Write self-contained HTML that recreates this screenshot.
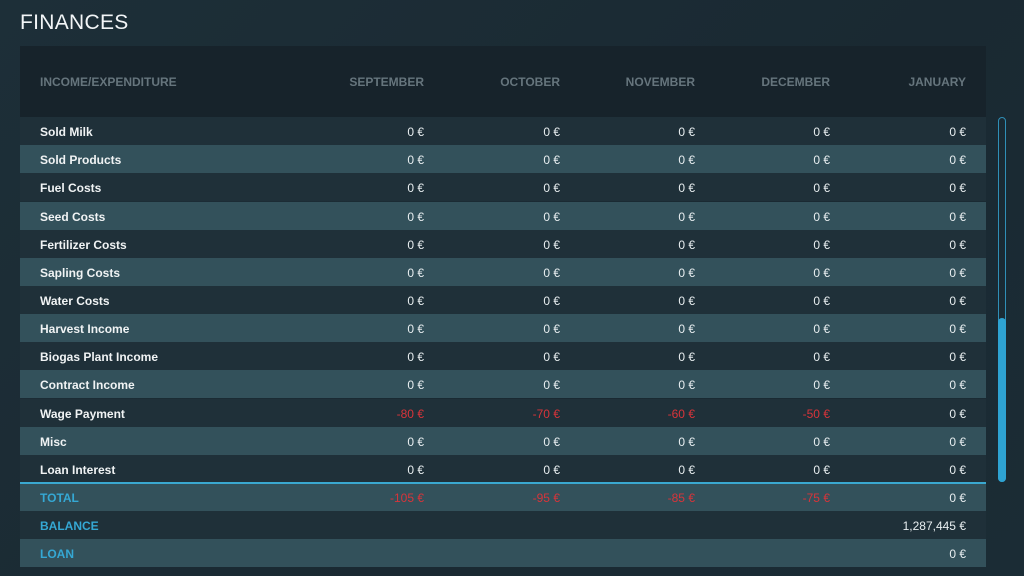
<!DOCTYPE html>
<html><head><meta charset="utf-8"><style>
*{margin:0;padding:0;box-sizing:border-box}
body{width:1024px;height:576px;overflow:hidden;background:linear-gradient(135deg,#1d2f38 0%,#1a2932 60%,#1b2c35 100%);font-family:"Liberation Sans",sans-serif;position:relative}
.title{position:absolute;left:20px;top:11px;font-size:21px;color:#f2f5f7;letter-spacing:0.3px}
.hdr{position:absolute;left:20px;top:46px;width:966px;height:71px;background:#17232b}
.hdr span,.row span{position:absolute;font-weight:bold;font-size:12px}
.hdr span{top:29px;color:#66757d}
.row{position:absolute;left:20px;width:966px;height:28px}
.row span{top:8px;color:#f0f3f4;white-space:nowrap}
.d{background:#1f3039}.l{background:#33515b}
.row span.r{color:#e8eef0;font-weight:normal;transform:translateX(-100%)}
.row span.neg{color:#d8343a}
.row span.blue{color:#35a8d4}
.sb{position:absolute;left:998px;top:117px;width:8px;height:365px;border:1px solid #2f8fb7;border-radius:4px}
.th{position:absolute;left:998px;top:318px;width:8px;height:164px;background:#2ea3d2;border-radius:4px}
.c1{left:404px}.c2{left:540px}.c3{left:675px}.c4{left:810px}.c5{left:946px}
</style></head><body>
<div class="title">FINANCES</div>
<div class="hdr">
<span style="left:20px">INCOME/EXPENDITURE</span>
<span style="left:404px;transform:translateX(-100%)">SEPTEMBER</span>
<span style="left:540px;transform:translateX(-100%)">OCTOBER</span>
<span style="left:675px;transform:translateX(-100%)">NOVEMBER</span>
<span style="left:810px;transform:translateX(-100%)">DECEMBER</span>
<span style="left:946px;transform:translateX(-100%)">JANUARY</span>
</div>
<div class="row d" style="top:117px"><span style="left:20px">Sold Milk</span><span class="r c1">0 €</span><span class="r c2">0 €</span><span class="r c3">0 €</span><span class="r c4">0 €</span><span class="r c5">0 €</span></div>
<div class="row l" style="top:145px"><span style="left:20px">Sold Products</span><span class="r c1">0 €</span><span class="r c2">0 €</span><span class="r c3">0 €</span><span class="r c4">0 €</span><span class="r c5">0 €</span></div>
<div class="row d" style="top:173px"><span style="left:20px">Fuel Costs</span><span class="r c1">0 €</span><span class="r c2">0 €</span><span class="r c3">0 €</span><span class="r c4">0 €</span><span class="r c5">0 €</span></div>
<div class="row l" style="top:202px"><span style="left:20px">Seed Costs</span><span class="r c1">0 €</span><span class="r c2">0 €</span><span class="r c3">0 €</span><span class="r c4">0 €</span><span class="r c5">0 €</span></div>
<div class="row d" style="top:230px"><span style="left:20px">Fertilizer Costs</span><span class="r c1">0 €</span><span class="r c2">0 €</span><span class="r c3">0 €</span><span class="r c4">0 €</span><span class="r c5">0 €</span></div>
<div class="row l" style="top:258px"><span style="left:20px">Sapling Costs</span><span class="r c1">0 €</span><span class="r c2">0 €</span><span class="r c3">0 €</span><span class="r c4">0 €</span><span class="r c5">0 €</span></div>
<div class="row d" style="top:286px"><span style="left:20px">Water Costs</span><span class="r c1">0 €</span><span class="r c2">0 €</span><span class="r c3">0 €</span><span class="r c4">0 €</span><span class="r c5">0 €</span></div>
<div class="row l" style="top:314px"><span style="left:20px">Harvest Income</span><span class="r c1">0 €</span><span class="r c2">0 €</span><span class="r c3">0 €</span><span class="r c4">0 €</span><span class="r c5">0 €</span></div>
<div class="row d" style="top:342px"><span style="left:20px">Biogas Plant Income</span><span class="r c1">0 €</span><span class="r c2">0 €</span><span class="r c3">0 €</span><span class="r c4">0 €</span><span class="r c5">0 €</span></div>
<div class="row l" style="top:370px"><span style="left:20px">Contract Income</span><span class="r c1">0 €</span><span class="r c2">0 €</span><span class="r c3">0 €</span><span class="r c4">0 €</span><span class="r c5">0 €</span></div>
<div class="row d" style="top:399px"><span style="left:20px">Wage Payment</span><span class="r neg c1">-80 €</span><span class="r neg c2">-70 €</span><span class="r neg c3">-60 €</span><span class="r neg c4">-50 €</span><span class="r c5">0 €</span></div>
<div class="row l" style="top:427px"><span style="left:20px">Misc</span><span class="r c1">0 €</span><span class="r c2">0 €</span><span class="r c3">0 €</span><span class="r c4">0 €</span><span class="r c5">0 €</span></div>
<div class="row d" style="top:455px"><span style="left:20px">Loan Interest</span><span class="r c1">0 €</span><span class="r c2">0 €</span><span class="r c3">0 €</span><span class="r c4">0 €</span><span class="r c5">0 €</span></div>
<div class="row l" style="top:483px"><span class="blue" style="left:20px">TOTAL</span><span class="r neg c1">-105 €</span><span class="r neg c2">-95 €</span><span class="r neg c3">-85 €</span><span class="r neg c4">-75 €</span><span class="r c5">0 €</span></div>
<div class="row d" style="top:511px"><span class="blue" style="left:20px">BALANCE</span><span class="r c5">1,287,445 €</span></div>
<div class="row l" style="top:539px"><span class="blue" style="left:20px">LOAN</span><span class="r c5">0 €</span></div>
<div style="position:absolute;left:20px;top:482px;width:966px;height:2px;background:#3aa8d0"></div>
<div class="sb"></div><div class="th"></div>
</body></html>
